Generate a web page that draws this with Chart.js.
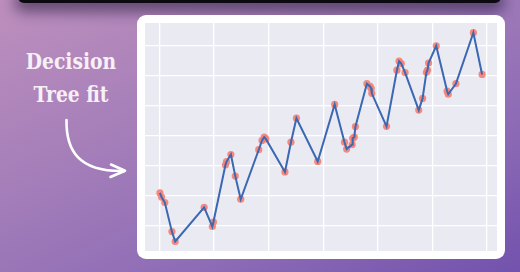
<!DOCTYPE html>
<html>
<head>
<meta charset="utf-8">
<script src="https://cdn.jsdelivr.net/npm/chart.js@4/dist/chart.umd.min.js"></script>
<style>
  html, body { margin: 0; padding: 0; }
  body {
    width: 520px; height: 272px; overflow: hidden; position: relative;
    background: linear-gradient(155deg, #bd8fbd 0%, #a37db9 40%, #8e6cb6 70%, #7252ad 100%);
  }
  .topbar {
    position: absolute; left: 18px; top: -10px; width: 483px; height: 13px;
    background: #0c0a10; border-radius: 6px;
    box-shadow: 0 5px 14px 4px rgba(30, 20, 55, 0.55);
  }
  .label {
    position: absolute; left: 0; top: 45px; width: 142px; text-align: center;
    font-family: "DejaVu Serif", serif; font-weight: bold; font-size: 21.5px;
    line-height: 33px; color: #f7f0f7;
    transform: scaleX(0.87); transform-origin: 71px 0;
  }
  .card {
    position: absolute; left: 137px; top: 15px; width: 368px; height: 244px;
    background: #fff; border-radius: 9px;
  }
  #chart { position: absolute; left: 145px; top: 23px; }
  svg { position: absolute; left: 0; top: 0; }
</style>
</head>
<body>
<div class="topbar"></div>
<div class="label">Decision<br>Tree fit</div>
<svg width="140" height="200">
  <path d="M66.5 120 C 66 150, 78 172, 124 171" fill="none" stroke="#fff" stroke-width="2.6" stroke-linecap="round"/>
  <path d="M111 164.5 L125 170.8 L110.5 177" fill="none" stroke="#fff" stroke-width="2.6" stroke-linecap="round" stroke-linejoin="round"/>
</svg>
<div class="card"></div>
<canvas id="chart" width="352" height="228"></canvas>
<script>
const xVals = [0.1, 0.4, 1.0, 2.3, 2.9, 8.2, 9.7, 9.9, 12.1, 12.3, 13.1, 13.9, 14.9, 18.2, 18.8, 19.2, 19.5,
  23.0, 24.1, 25.1, 29.0, 32.1, 33.9, 34.3, 35.3, 35.4, 35.7, 35.9, 38.0, 38.6, 38.8, 38.9, 41.6,
  43.5, 43.9, 44.3, 45.0, 47.5, 48.2, 48.9, 49.1, 49.3, 50.7, 52.7, 52.9, 54.3, 57.5, 59.1];
const yVals = [10.8, 9.4, 7.6, -2.1, -5.4, 6.0, -0.4, 1.1, 20.1, 21.2, 23.6, 16.4, 8.7, 25.2, 28.3, 29.4, 28.8,
  17.8, 27.7, 35.7, 21.3, 40.3, 27.7, 25.4, 26.9, 29.0, 29.4, 32.9, 47.2, 46.3, 45.6, 44.0, 33.0,
  51.7, 54.7, 53.9, 50.9, 38.4, 42.3, 51.0, 51.7, 54.1, 59.8, 44.7, 43.7, 47.2, 64.2, 50.3];
const xTicks = [0, 10, 20, 30, 40, 50, 60];
const yTicks = [0, 10, 20, 30, 40, 50, 60];

const pts = xVals.map((x, i) => ({ x: x, y: yVals[i] }));

const plotBg = {
  id: 'plotBg',
  beforeDraw(chart) {
    const { ctx, chartArea: a } = chart;
    ctx.save();
    ctx.fillStyle = '#eaeaf2';
    ctx.fillRect(a.left, a.top, a.right - a.left, a.bottom - a.top);
    ctx.restore();
  }
};

const axis = (min, max, ticks) => ({
  type: 'linear', min: min, max: max,
  afterBuildTicks: s => { s.ticks = ticks.map(v => ({ value: v })); },
  ticks: { display: false },
  grid: { color: '#ffffff', lineWidth: 1.3, drawTicks: false },
  border: { display: false }
});

new Chart(document.getElementById('chart').getContext('2d'), {
  type: 'scatter',
  data: {
    datasets: [{
      data: pts,
      showLine: true,
      borderColor: '#3a68b2',
      borderWidth: 2,
      pointRadius: 0,
      order: 1
    }, {
      data: pts,
      showLine: false,
      pointRadius: 3.6,
      pointBorderWidth: 0,
      pointBackgroundColor: 'rgba(246,128,116,0.92)',
      order: 2
    }]
  },
  options: {
    responsive: false,
    animation: false,
    layout: { padding: 0, autoPadding: false },
    plugins: { legend: { display: false }, tooltip: { enabled: false } },
    scales: {
      x: axis(-2.63, 61.83, xTicks),
      y: axis(-8.56, 67.44, yTicks)
    }
  },
  plugins: [plotBg]
});
</script>
</body>
</html>
